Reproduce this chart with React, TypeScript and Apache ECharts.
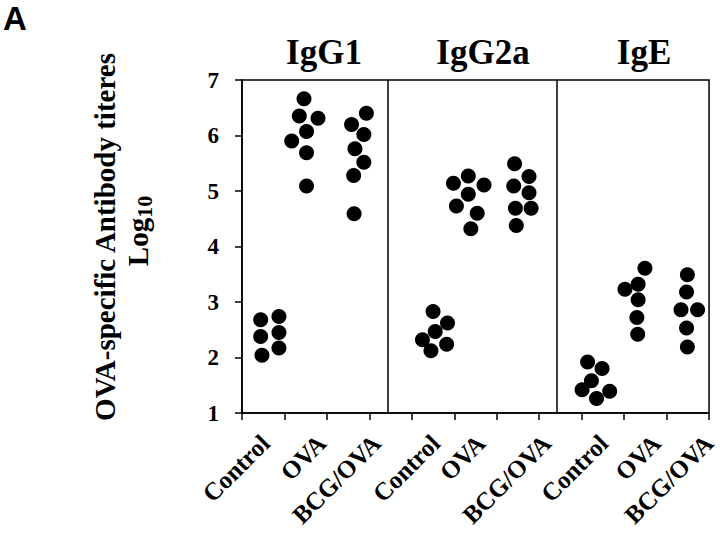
import React, { useEffect, useRef } from "react";
import * as echarts from "echarts";

// ---- data ----
const panelNames = ["IgG1", "IgG2a", "IgE"];
const groupNames = ["Control", "OVA", "BCG/OVA"];
const yTicks = [1, 2, 3, 4, 5, 6, 7];

// log10 titres
const igg1Control = [2.68, 2.74, 2.38, 2.45, 2.04, 2.17];
const igg1Ova = [6.66, 6.35, 6.31, 6.07, 5.9, 5.69, 5.09];
const igg1BcgOva = [6.4, 6.2, 6.02, 5.76, 5.52, 5.28, 4.59];
const igg2aControl = [2.83, 2.62, 2.47, 2.32, 2.24, 2.12];
const igg2aOva = [5.27, 5.14, 5.11, 4.94, 4.73, 4.6, 4.32];
const igg2aBcgOva = [5.49, 5.26, 5.09, 4.97, 4.69, 4.69, 4.38];
const igeControl = [1.92, 1.8, 1.58, 1.42, 1.39, 1.26];
const igeOva = [3.61, 3.32, 3.23, 3.04, 2.72, 2.42];
const igeBcgOva = [3.49, 3.18, 2.86, 2.86, 2.53, 2.19];

const groupValues = [
  igg1Control, igg1Ova, igg1BcgOva,
  igg2aControl, igg2aOva, igg2aBcgOva,
  igeControl, igeOva, igeBcgOva,
];

// ---- layout (axis units along the shared x axis) ----
const groupCenters = [0.66, 1.52, 2.75, 4.57, 5.35, 6.58, 8.31, 9.31, 10.51];
const jitter = [
  [-0.22, 0.21, -0.22, 0.21, -0.19, 0.21],
  [-0.06, -0.17, 0.27, 0, -0.35, 0, 0],
  [0.18, -0.17, 0.12, -0.09, 0.12, -0.12, -0.11],
  [-0.07, 0.27, -0.02, -0.32, 0.25, -0.12],
  [-0.02, -0.37, 0.35, -0.02, -0.3, 0.19, 0.04],
  [-0.16, 0.18, -0.18, 0.18, -0.14, 0.23, -0.12],
  [-0.17, 0.17, -0.08, -0.3, 0.35, 0.04],
  [0.18, 0.02, -0.29, 0.02, -0.01, 0.01],
  [-0.02, -0.04, -0.17, 0.22, -0.04, -0.02],
];
const labelPositions = [0.55, 1.88, 3.17, 4.56, 5.63, 7.18, 8.52, 9.76, 11];
const tickValues = [0, 1, 2, 3, 4, 5, 6, 7, 8, 9, 10, 11];
const dividers = [3.44, 7.42];
const titleX = [324, 483, 644];

const SERIF = "'Liberation Serif', 'Times New Roman', serif";

export default function App() {
  const ref = useRef<HTMLDivElement>(null);

  useEffect(() => {
    if (!ref.current) return;
    const chart = echarts.init(ref.current, undefined, { renderer: "svg" });

    const points: number[][] = [];
    groupValues.forEach((vals, g) => {
      vals.forEach((v, i) => {
        points.push([groupCenters[g] + (jitter[g][i] || 0), v]);
      });
    });

    const option: any = {
      animation: false,
      backgroundColor: "#ffffff",
      grid: {
        left: 242,
        right: 9,
        top: 80,
        bottom: 128,
        show: true,
        borderColor: "#000",
        borderWidth: 1.5,
        backgroundColor: "transparent",
      },
      xAxis: {
        type: "value",
        min: 0,
        max: 11,
        interval: 1,
        splitLine: { show: false },
        axisLine: { lineStyle: { color: "#000", width: 1.5 } },
        axisTick: {
          show: true,
          length: 7,
          customValues: tickValues,
          lineStyle: { color: "#000", width: 1.5 },
        },
        axisLabel: {
          customValues: labelPositions,
          rotate: 45,
          margin: 26,
          color: "#000",
          fontFamily: SERIF,
          fontWeight: "bold",
          fontSize: 25,
          formatter: (v: number) => {
            const i = labelPositions.indexOf(v);
            return i >= 0 ? groupNames[i % 3] : "";
          },
        },
      },
      yAxis: {
        type: "value",
        min: yTicks[0],
        max: yTicks[yTicks.length - 1],
        interval: 1,
        splitLine: { show: false },
        axisLine: { show: true, lineStyle: { color: "#000", width: 1.5 } },
        axisTick: { show: true, length: 7, lineStyle: { color: "#000", width: 1.5 } },
        axisLabel: {
          margin: 23,
          color: "#000",
          fontFamily: SERIF,
          fontWeight: "bold",
          fontSize: 23,
        },
      },
      series: [
        {
          type: "scatter",
          symbol: "circle",
          symbolSize: 15,
          itemStyle: { color: "#000", opacity: 1 },
          data: points,
          markLine: {
            silent: true,
            symbol: "none",
            label: { show: false },
            lineStyle: { color: "#000", width: 1.5, type: "solid" },
            data: dividers.map((d) => ({ xAxis: d })),
          },
        },
      ],
      graphic: [
        {
          type: "text",
          x: 3,
          y: 18,
          style: {
            text: "A",
            fontFamily: "'Liberation Sans', Arial, sans-serif",
            fontWeight: "bold",
            fontSize: 33,
            fill: "#000",
            align: "left",
            verticalAlign: "middle",
          },
        },
        ...panelNames.map((name, i) => ({
          type: "text",
          x: titleX[i],
          y: 52,
          style: {
            text: name,
            fontFamily: SERIF,
            fontWeight: "bold",
            fontSize: 35,
            fill: "#000",
            align: "center",
            verticalAlign: "middle",
          },
        })),
        {
          type: "text",
          x: 105,
          y: 237,
          rotation: Math.PI / 2,
          style: {
            text: "OVA-specific Antibody titeres",
            fontFamily: SERIF,
            fontWeight: "bold",
            fontSize: 29,
            fill: "#000",
            align: "center",
            verticalAlign: "middle",
          },
        },
        {
          type: "text",
          x: 138,
          y: 231,
          rotation: Math.PI / 2,
          style: {
            text: "{a|Log}{b|10}",
            fill: "#000",
            align: "center",
            verticalAlign: "middle",
            rich: {
              a: { fontFamily: SERIF, fontWeight: "bold", fontSize: 29, fill: "#000" },
              b: {
                fontFamily: SERIF,
                fontWeight: "bold",
                fontSize: 22,
                fill: "#000",
                padding: [12, 0, 0, 0],
                verticalAlign: "bottom",
              },
            },
          },
        },
      ],
    };

    chart.setOption(option);
    return () => chart.dispose();
  }, []);

  return (
    <div
      ref={ref}
      style={{ position: "fixed", left: 0, top: 0, width: 720, height: 541 }}
    />
  );
}
